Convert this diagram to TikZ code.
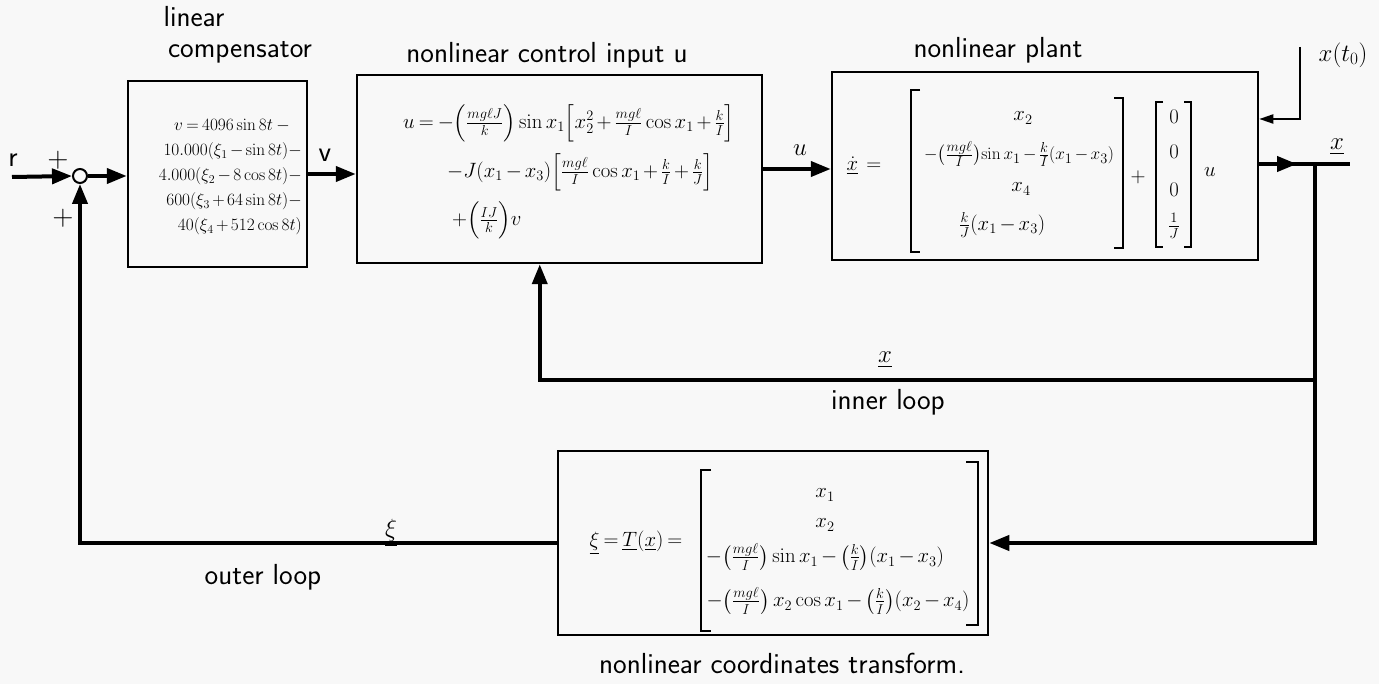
\documentclass[tikz,border=0pt]{standalone}
\usepackage{amsmath}
\usetikzlibrary{arrows.meta}
\definecolor{paper}{HTML}{F8F8F8}
\medmuskip=2.5mu plus 1mu minus 1mu
\thickmuskip=3.5mu plus 1mu minus 1mu
\begin{document}
\begin{tikzpicture}[x=1pt,y=-1pt,
  blk/.style={draw, line width=2.5pt, inner sep=0pt, rectangle},
  sig/.style={line width=4pt},
  tip/.style={-{Triangle[length=20pt,width=15pt]}},
  smalltip/.style={-{Triangle[length=14pt,width=9pt]}},
  lbl/.style={font=\fontsize{29}{33}\selectfont\sffamily, inner sep=0pt},
  eq/.style={font=\fontsize{20}{25}\selectfont, inner sep=0pt},
  brk/.style={line width=2pt},
]
\useasboundingbox (0,0) rectangle (1379,684);
\fill[paper] (0,0) rectangle (1379,684);

% blocks
\node[blk, minimum width=179pt, minimum height=186pt] (comp) at (217.5,174) {};
\node[blk, minimum width=405pt, minimum height=188pt] (ctrl) at (559.5,169) {};
\node[blk, minimum width=426pt, minimum height=188pt] (plant) at (1045,166) {};
\node[blk, minimum width=430pt, minimum height=184pt] (trans) at (773,543) {};
\node[draw, circle, line width=2pt, minimum size=14pt, inner sep=0pt] (sum) at (80,176) {};

% block titles
\node[lbl] (t1) at (194,17) {linear};
\node[lbl] (t2) at (240,52) {compensator};
\node[lbl] (t3) at (547,55) {nonlinear control input u};
\node[lbl] (t4) at (998,50) {nonlinear plant};
\node[lbl] (t5) at (782,663) {nonlinear coordinates transform.};

% compensator text
\node[eq, align=right, anchor=east, font=\fontsize{18.5}{25}\selectfont] (ctext) at (302,177)
 {$v = 4096\sin 8t\;-$\hspace*{12pt}\\
  $10.000(\xi_1-\sin 8t)-$\\
  $4.000(\xi_2-8\cos 8t)-$\\
  $600(\xi_3+64\sin 8t)-$\\
  $40(\xi_4+512\cos 8t)$};

% control law text
\node[eq, anchor=west] (c1) at (403,123)
 {$u = -\Bigl(\frac{mg\ell J}{k}\Bigr)\sin x_1\Bigl[x_2^2+\frac{mg\ell}{I}\cos x_1+\frac{k}{I}\Bigr]$};
\node[eq, anchor=west] (c2) at (447,172)
 {$-J(x_1-x_3)\Bigl[\frac{mg\ell}{I}\cos x_1+\frac{k}{I}+\frac{k}{J}\Bigr]$};
\node[eq, anchor=west] (c3) at (452,220)
 {$+\Bigl(\frac{IJ}{k}\Bigr)v$};

% plant text
\node[eq, font=\fontsize{22}{25}\selectfont] (p0) at (864,166) {$\underline{\dot{x}}\;=$};
\draw[brk] (920,90) -- (911,90) -- (911,252) -- (920,252);
\draw[brk] (1114,98) -- (1123,98) -- (1123,248) -- (1114,248);
\node[eq] (p1) at (1023,118) {$x_2$};
\node[eq, font=\fontsize{19}{25}\selectfont] (p2) at (1019,154) {$-\bigl(\frac{mg\ell}{I}\bigr)\!\sin x_1-\frac{k}{I}(x_1-x_3)$};
\node[eq] (p3) at (1021,189) {$x_4$};
\node[eq] (p4) at (1002,225) {$\frac{k}{J}(x_1-x_3)$};
\node[eq] (pplus) at (1138,177) {$+$};
\draw[brk] (1163,102) -- (1156,102) -- (1156,247) -- (1163,247);
\draw[brk] (1184,102) -- (1191,102) -- (1191,247) -- (1184,247);
\node[eq] (q1) at (1174,117) {$0$};
\node[eq] (q2) at (1174,152) {$0$};
\node[eq] (q3) at (1174,190) {$0$};
\node[eq] (q4) at (1174,226) {$\frac{1}{J}$};
\node[eq, font=\fontsize{22}{25}\selectfont] (pu) at (1210,172) {$u$};

% transform text
\node[eq, font=\fontsize{22}{25}\selectfont] (s0) at (636,543) {$\underline{\xi}=\underline{T}(\underline{x})=$};
\draw[brk] (711,470) -- (701,470) -- (701,631) -- (711,631);
\draw[brk] (966,462) -- (978,462) -- (978,625) -- (966,625);
\node[eq] (s1) at (825,495) {$x_1$};
\node[eq] (s2) at (825,525) {$x_2$};
\node[eq, font=\fontsize{20.5}{25}\selectfont] (s3) at (825,557) {$-\bigl(\frac{mg\ell}{I}\bigr)\sin x_1-\bigl(\frac{k}{I}\bigr)(x_1-x_3)$};
\node[eq, font=\fontsize{20.5}{25}\selectfont] (s4) at (838,601) {$-\bigl(\frac{mg\ell}{I}\bigr)\,x_2\cos x_1-\bigl(\frac{k}{I}\bigr)(x_2-x_4)$};

% coordinates for free ends and branches
\coordinate (rin) at (12,177);
\coordinate (xo) at (1350,164);
\coordinate (amid) at (1297,164);
\coordinate (br) at (1315,164);
\coordinate (ib) at (1315,380);
\coordinate (ic) at ([xshift=184pt]ctrl.south west);
\coordinate (x0) at (1300,47);

% connectors
\draw[sig, tip] (rin) -- (sum.west);
\draw[sig, tip] (sum.east) -- (comp.west |- sum.east);
\draw[sig, tip] (comp.east) -- (ctrl.west |- comp.east);
\draw[sig, tip] (ctrl.east) -- (plant.west |- ctrl.east);
\draw[sig] (plant.east |- br) -- (xo);
\draw[sig, tip] (plant.east |- br) -- (amid);
\draw[sig, tip] (br) |- (trans.east);
\draw[sig, tip] (ib) -| (ic);
\draw[sig, tip] (trans.west) -| (sum.south);
\draw[line width=2pt, smalltip] (x0) |- (plant.east |- 0,119);

% signal labels
\node[lbl] (lr) at (13,160) {r};
\node[lbl] (lp1) at (58,160) {+};
\node[lbl] (lp2) at (63,218) {+};
\node[lbl] (lv) at (325,155) {v};
\node[eq, font=\fontsize{26}{28}\selectfont] (lu) at (800,150) {$u$};
\node[eq, font=\fontsize{24}{28}\selectfont] (lx) at (1337,147) {$\underline{x}$};
\node[eq, font=\fontsize{24}{28}\selectfont] (lx0) at (1343,55) {$x(t_0)$};
\node[eq, font=\fontsize{24}{28}\selectfont] (lxi) at (885,360) {$\underline{x}$};
\node[lbl] (linner) at (888,402) {inner loop};
\node[eq, font=\fontsize{24}{28}\selectfont] (lxi2) at (391,533) {$\underline{\xi}$};
\node[lbl] (louter) at (263,577) {outer loop};
\end{tikzpicture}
\end{document}
